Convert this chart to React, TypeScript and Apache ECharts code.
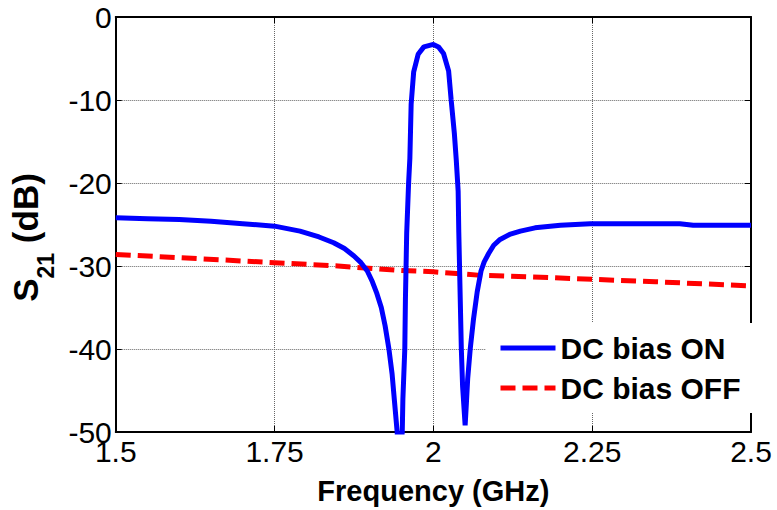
import React, { useEffect, useRef } from "react";
import * as echarts from "echarts";

// Frequency (GHz) and S21 (dB)
const freqOn = [
  1.5, 1.55, 1.6, 1.65, 1.7, 1.75, 1.79, 1.82, 1.843, 1.86, 1.875, 1.886, 1.896,
  1.904, 1.911, 1.918, 1.924, 1.93, 1.935, 1.939, 1.943, 1.946, 1.951, 1.952,
  1.955, 1.956, 1.958, 1.961, 1.963, 1.965, 1.969, 1.976, 1.985, 2.0, 2.008,
  2.016, 2.024, 2.028, 2.033, 2.036, 2.039, 2.04, 2.042, 2.044, 2.046, 2.05,
  2.052, 2.054, 2.058, 2.063, 2.069, 2.075, 2.08, 2.087, 2.095, 2.105, 2.12,
  2.137, 2.16, 2.2, 2.247, 2.3, 2.388, 2.409, 2.45, 2.5,
];
const s21On = [
  -24.2, -24.3, -24.4, -24.6, -24.9, -25.2, -25.8, -26.5, -27.2, -27.9, -28.8,
  -29.6, -30.6, -31.9, -33.3, -35.0, -37.2, -40, -43, -46.5, -50, -55, -50, -46,
  -40, -34, -26, -20, -17, -10.5, -6.6, -4.5, -3.6, -3.3, -3.6, -4.4, -6.5, -10,
  -14, -17.2, -21, -25.9, -33, -40, -44.5, -49.2, -46.5, -43.6, -40, -36.5,
  -33.1, -30.6, -29.5, -28.5, -27.5, -26.8, -26.2, -25.8, -25.4, -25.1, -24.9,
  -24.9, -24.9, -25.1, -25.1, -25.1,
];
const freqOff = [1.5, 1.6, 1.75, 1.85, 1.94, 2.0, 2.07, 2.15, 2.25, 2.35, 2.5];
const s21Off = [-28.6, -29.0, -29.6, -30.0, -30.5, -30.7, -31.1, -31.3, -31.6, -31.9, -32.4];

const seriesNames = ["DC bias ON", "DC bias OFF"];
const xRange = [1.5, 2.5];
const xStep = 0.25;
const yRange = [-50, 0];
const yStep = 10;

const FONT = "'Liberation Sans', Arial, Helvetica, sans-serif";

export default function App() {
  const ref = useRef<HTMLDivElement>(null);

  useEffect(() => {
    if (!ref.current) return;
    const chart = echarts.init(ref.current, null, { renderer: "svg" });

    const onData = freqOn.map((f, i) => [f, s21On[i]]);
    const offData = freqOff.map((f, i) => [f, s21Off[i]]);

    const axisLine = { show: true, onZero: false, lineStyle: { color: "#000", width: 2 } };
    const axisTick = { show: true, inside: true, length: 6, lineStyle: { color: "#000", width: 1 } };
    const splitLine = { show: true, lineStyle: { color: "#666", type: [1, 1], width: 1 } };
    const labelStyle = { fontSize: 30, color: "#000", fontFamily: FONT };

    chart.setOption({
      animation: false,
      backgroundColor: "#fff",
      grid: { left: 115, top: 17, right: 26, bottom: 77, containLabel: false },
      xAxis: [
        {
          type: "value",
          min: xRange[0],
          max: xRange[1],
          interval: xStep,
          position: "bottom",
          axisLine,
          axisTick,
          splitLine,
          axisLabel: { ...labelStyle, margin: 4 },
          name: "Frequency (GHz)",
          nameLocation: "middle",
          nameGap: 44,
          nameTextStyle: { fontSize: 29, fontWeight: "bold", color: "#000", fontFamily: FONT },
        },
        {
          type: "value",
          min: xRange[0],
          max: xRange[1],
          interval: xStep,
          position: "top",
          axisLine,
          axisTick,
          splitLine: { show: false },
          axisLabel: { show: false },
        },
      ],
      yAxis: [
        {
          type: "value",
          min: yRange[0],
          max: yRange[1],
          interval: yStep,
          position: "left",
          axisLine,
          axisTick,
          splitLine,
          axisLabel: { ...labelStyle, margin: 4 },
          name: "{b|S}{sub|21}{b| (dB)}",
          nameLocation: "middle",
          nameRotate: 90,
          nameGap: 57,
          nameTextStyle: {
            padding: [0, 26, 0, 0],
            rich: {
              b: { fontSize: 35, fontWeight: "bold", color: "#000", fontFamily: FONT, lineHeight: 64 },
              sub: {
                fontSize: 23,
                fontWeight: "bold",
                color: "#000",
                fontFamily: FONT,
                lineHeight: 23,
                verticalAlign: "bottom",
              },
            },
          },
        },
        {
          type: "value",
          min: yRange[0],
          max: yRange[1],
          interval: yStep,
          position: "right",
          axisLine,
          axisTick,
          splitLine: { show: false },
          axisLabel: { show: false },
        },
      ],
      legend: {
        data: seriesNames,
        orient: "vertical",
        left: 486,
        top: 323,
        padding: [10, 14, 10, 12],
        backgroundColor: "#fff",
        itemWidth: 55,
        itemHeight: 14,
        itemGap: 10,
        selectedMode: false,
        itemStyle: { opacity: 0, borderWidth: 0 },
        lineStyle: { width: 5 },
        textStyle: { fontSize: 30, fontWeight: "bold", color: "#000", fontFamily: FONT, lineHeight: 30 },
      },
      series: [
        {
          name: seriesNames[0],
          type: "line",
          data: onData,
          showSymbol: false,
          symbol: "none",
          clip: true,
          lineStyle: { color: "#0000ff", width: 5, cap: "butt" },
          itemStyle: { color: "#0000ff" },
          z: 3,
        },
        {
          name: seriesNames[1],
          type: "line",
          data: offData,
          showSymbol: false,
          symbol: "none",
          clip: true,
          lineStyle: { color: "#ff0000", width: 5, type: [15, 7], cap: "butt" },
          itemStyle: { color: "#ff0000" },
          z: 2,
        },
      ],
    });

    return () => chart.dispose();
  }, []);

  return (
    <div
      ref={ref}
      style={{ position: "fixed", left: 0, top: 0, width: 777, height: 510, background: "#fff" }}
    />
  );
}
